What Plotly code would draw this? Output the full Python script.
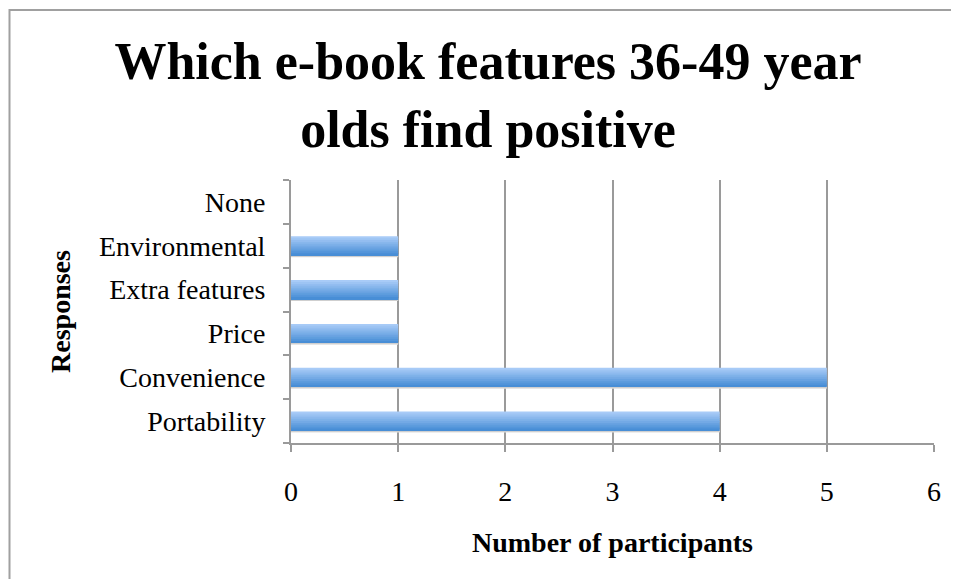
import plotly.graph_objects as go

categories = ["Portability", "Convenience", "Price", "Extra features", "Environmental", "None"]
values = [4, 5, 1, 1, 1, 0]
x_ticks = [0, 1, 2, 3, 4, 5, 6]

title_text = "Which e-book features 36-49 year<br>olds find positive"
x_title = "Number of participants"
y_title = "Responses"

FONT = "Liberation Serif"
GRID = "#9a9a9a"

fig = go.Figure()

# Bar drawn as stacked horizontal strips to imitate the gradient fill
bar_w = 0.43
top_c = (168, 203, 247)
bot_c = (72, 142, 214)
n = 10
h = bar_w / n
# shadow under the bar
for sh, col in [(0.05, "#dedede"), (0.03, "#cfcfcf")]:
    fig.add_trace(go.Bar(
        y=categories, x=values, orientation="h",
        offset=-bar_w / 2 - sh + 0.005, width=sh + 0.01,
        marker=dict(color=col, line=dict(width=0)),
        hoverinfo="skip", showlegend=False,
    ))
for i in range(n):
    t = i / (n - 1)
    c = tuple(round(top_c[j] + (bot_c[j] - top_c[j]) * t) for j in range(3))
    fig.add_trace(go.Bar(
        y=categories, x=values, orientation="h",
        offset=bar_w / 2 - (i + 1) * h, width=h * 1.02,
        marker=dict(color="rgb(%d,%d,%d)" % c, line=dict(width=0)),
        hoverinfo="skip", showlegend=False,
    ))

# page has an 8px body margin, so the figure is a bit smaller than the window
W, H = 951, 571
L, R, T, B = 283, 25, 172, 136
pw, ph = W - L - R, H - T - B

def px_to_paper_x(px):
    return (px - L) / pw

def px_to_paper_y(py):
    return (H - B - py) / ph

fig.update_layout(
    width=W, height=H,
    margin=dict(l=L, r=R, t=T, b=B),
    paper_bgcolor="white", plot_bgcolor="white",
    barmode="overlay",
    font=dict(family=FONT, color="black"),
    title=dict(
        text="<b>" + title_text + "</b>",
        font=dict(family=FONT, size=52, color="black"),
        x=480 / W, xanchor="center", xref="container",
        y=1 - 71 / H, yanchor="middle", yref="container",
    ),
    xaxis=dict(
        range=[0, 6], tickvals=x_ticks,
        showgrid=True, gridcolor=GRID, gridwidth=1.5,
        showline=True, linecolor=GRID, linewidth=2,
        ticks="outside", ticklen=7, tickcolor=GRID, tickwidth=1.5,
        tickfont=dict(family=FONT, size=28),
        ticklabelstandoff=15,
        zeroline=False,
        title=dict(text="<b>" + x_title + "</b>", font=dict(family=FONT, size=28), standoff=27),
    ),
    yaxis=dict(
        type="category", categoryorder="array", categoryarray=categories,
        range=[-0.5, 5.5],
        showgrid=False,
        showline=True, linecolor=GRID, linewidth=2,
        ticks="outside", ticklen=6, tickcolor=GRID, tickwidth=1.5,
        tickson="boundaries",
        tickfont=dict(family=FONT, size=28),
        ticklabelstandoff=18,
        title=dict(text="<b>" + y_title + "</b>", font=dict(family=FONT, size=28), standoff=20),
    ),
    shapes=[
        dict(type="rect", xref="paper", yref="paper",
             x0=px_to_paper_x(1.5), x1=px_to_paper_x(W + 20),
             y0=px_to_paper_y(H + 20), y1=px_to_paper_y(2),
             line=dict(color="#a0a0a0", width=2), fillcolor="rgba(0,0,0,0)", layer="below"),
    ],
)

fig.write_html("out.html")
